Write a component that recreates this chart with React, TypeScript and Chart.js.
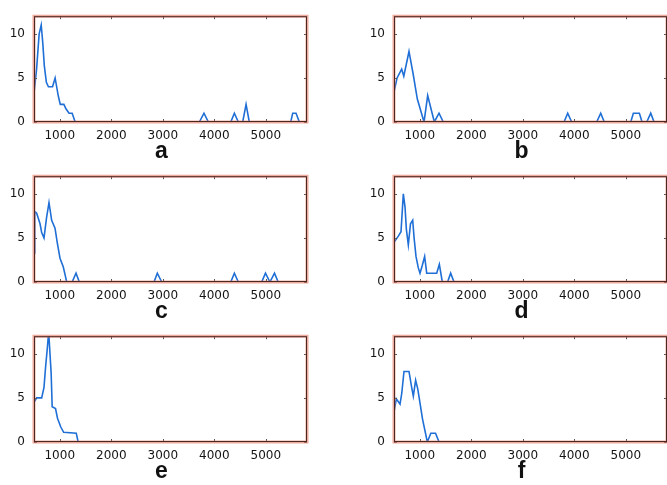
import React, { useEffect, useRef } from "react";
import { Chart, registerables } from "chart.js";

Chart.register(...registerables);

const xTicks = [1000, 2000, 3000, 4000, 5000];
const yTicks = [0, 5, 10];

const aX = [500, 550, 600, 640, 670, 700, 740, 780, 860, 910, 970, 1010, 1080, 1120, 1180, 1240, 1300, 3710, 3800, 3885, 4320, 4390, 4467, 4552, 4617, 4680, 5484, 5523, 5587, 5652, 5800];
const aY = [3.3, 6, 10, 11, 9, 6.4, 4.5, 4, 4, 5, 3, 2, 2, 1.5, 1, 1, 0, 0, 1, 0, 0, 1, 0, 0, 2, 0, 0, 1, 1, 0, 0];

const bX = [500, 560, 649, 690, 791, 870, 953, 1083, 1154, 1283, 1374, 1457, 3801, 3872, 3950, 4435, 4513, 4583, 5096, 5147, 5264, 5316, 5407, 5484, 5549, 5800];
const bY = [3.4, 5, 6, 5.2, 8, 5.5, 2.6, 0, 3, 0, 1, 0, 0, 1, 0, 0, 1, 0, 0, 1, 1, 0, 0, 1, 0, 0];

const cX = [500, 515, 552, 617, 649, 694, 746, 791, 843, 908, 953, 1005, 1069, 1135, 1240, 1316, 1380, 2830, 2894, 2980, 4320, 4390, 4467, 4920, 4994, 5080, 5169, 5240, 5800];
const cY = [3.3, 8, 7.8, 6.6, 5.6, 5, 7.4, 9, 7, 6.1, 4.4, 2.7, 1.7, 0, 0, 1, 0, 0, 1, 0, 0, 1, 0, 0, 1, 0, 1, 0, 0];

const dX = [500, 584, 636, 681, 714, 740, 778, 820, 863, 890, 927, 972, 1005, 1050, 1095, 1135, 1329, 1380, 1438, 1540, 1600, 1665, 5800];
const dY = [4.5, 5.2, 5.7, 10, 8.5, 6, 4.2, 6.6, 7, 5, 2.9, 1.6, 1, 1.9, 2.9, 1, 1, 2, 0, 0, 1, 0, 0];

const eX = [500, 552, 649, 694, 725, 758, 785, 833, 853, 918, 956, 1020, 1076, 1320, 1357, 5800];
const eY = [4.5, 5, 5, 6.2, 8.5, 10.6, 12.5, 7.8, 4, 3.8, 2.7, 1.7, 1.1, 1, 0, 0];

const fX = [500, 545, 617, 650, 694, 791, 843, 875, 920, 962, 1005, 1054, 1147, 1215, 1306, 1375, 5800];
const fY = [3.4, 4.9, 4.3, 5.5, 8, 8, 6.2, 5.2, 7, 6, 4.4, 2.6, 0, 1, 1, 0, 0];

const panelLabels = ["a", "b", "c", "d", "e", "f"];
const panelXs = [aX, bX, cX, dX, eX, fX];
const panelYs = [aY, bY, cY, dY, eY, fY];

const TICK_FONT = "'DejaVu Sans', Verdana, sans-serif";
const LABEL_FONT = "'Liberation Sans', Arial, Helvetica, sans-serif";
const LINE_COLOR = "#1f6fd6";

function makeFramePlugin(label: string) {
  return {
    id: "frame_" + label,
    afterDatasetsDraw(chart: any) {
      const { ctx, chartArea, scales } = chart;
      const { left, right, top, bottom } = chartArea;
      ctx.save();
      ctx.strokeStyle = "#555";
      ctx.lineWidth = 1;
      ctx.beginPath();
      for (const v of xTicks) {
        const px = Math.round(scales.x.getPixelForValue(v)) + 0.5;
        ctx.moveTo(px, top);
        ctx.lineTo(px, top + 3);
        ctx.moveTo(px, bottom);
        ctx.lineTo(px, bottom - 3);
      }
      for (const v of yTicks) {
        const py = Math.round(scales.y.getPixelForValue(v)) + 0.5;
        ctx.moveTo(left, py);
        ctx.lineTo(left + 3, py);
        ctx.moveTo(right, py);
        ctx.lineTo(right - 3, py);
      }
      ctx.stroke();
      ctx.strokeStyle = "rgba(225,115,95,0.6)";
      ctx.lineWidth = 3;
      ctx.strokeRect(left, top, right - left, bottom - top);
      ctx.strokeStyle = "#4a2822";
      ctx.lineWidth = 1;
      ctx.strokeRect(left + 0.5, top + 0.5, right - left - 1, bottom - top - 1);
      ctx.font = "bold 23px " + LABEL_FONT;
      ctx.fillStyle = "#111";
      ctx.textAlign = "center";
      ctx.textBaseline = "alphabetic";
      ctx.fillText(label, (left + right) / 2 - 9, 158);
      ctx.restore();
    },
  };
}

function Panel({ xs, ys, label, left, top }: { xs: number[]; ys: number[]; label: string; left: number; top: number }) {
  const ref = useRef<HTMLCanvasElement>(null);
  useEffect(() => {
    const chart = new Chart(ref.current as HTMLCanvasElement, {
      type: "line",
      data: {
        datasets: [
          {
            data: xs.map((x, i) => ({ x, y: ys[i] })),
            borderColor: LINE_COLOR,
            borderWidth: 1.6,
            pointRadius: 0,
            tension: 0,
            fill: false,
          },
        ],
      },
      options: {
        animation: false,
        responsive: false,
        devicePixelRatio: 1,
        events: [],
        layout: { padding: { left: 0, top: 6, right: 23, bottom: 0 } },
        plugins: { legend: { display: false }, tooltip: { enabled: false } },
        scales: {
          x: {
            type: "linear",
            min: 500,
            max: 5800,
            afterBuildTicks: (s: any) => {
              s.ticks = xTicks.map((v) => ({ value: v }));
            },
            afterFit: (s: any) => {
              s.height = 43;
            },
            grid: { display: false, drawTicks: false },
            border: { display: false },
            ticks: {
              autoSkip: false,
              maxRotation: 0,
              padding: 7,
              color: "#151515",
              font: { family: TICK_FONT, size: 12 },
              callback: (v: any) => String(v),
            },
          },
          y: {
            type: "linear",
            min: 0,
            max: 12,
            afterBuildTicks: (s: any) => {
              s.ticks = yTicks.map((v) => ({ value: v }));
            },
            afterFit: (s: any) => {
              s.width = 34;
            },
            grid: { display: false, drawTicks: false },
            border: { display: false },
            ticks: {
              padding: 9,
              color: "#151515",
              font: { family: TICK_FONT, size: 12 },
              callback: (v: any) => String(v),
            },
          },
        },
      },
      plugins: [makeFramePlugin(label)],
    });
    return () => chart.destroy();
  }, []);
  return (
    <canvas
      ref={ref}
      width={330}
      height={165}
      style={{ position: "absolute", left, top, width: 330, height: 165 }}
    />
  );
}

export default function App() {
  return (
    <div
      style={{
        position: "fixed",
        left: 0,
        top: 0,
        width: 667,
        height: 485,
        overflow: "hidden",
        background: "#fff",
      }}
    >
      {panelLabels.map((label, i) => (
        <Panel
          key={label}
          label={label}
          xs={panelXs[i]}
          ys={panelYs[i]}
          left={(i % 2) * 360}
          top={Math.floor(i / 2) * 160}
        />
      ))}
    </div>
  );
}
